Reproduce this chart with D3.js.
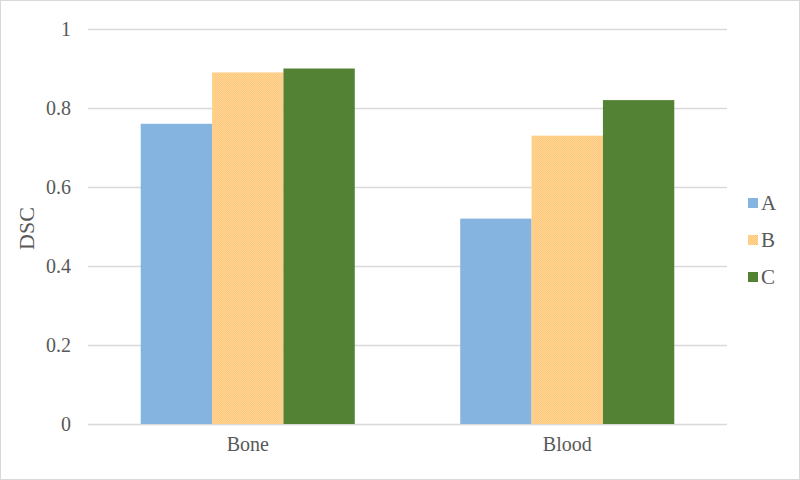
<!DOCTYPE html>
<html>
<head>
<meta charset="utf-8">
<script src="https://cdn.jsdelivr.net/npm/d3@7"></script>
<style>
  body { margin: 0; background: #fff; }
  svg text { font-family: "Liberation Serif", "Times New Roman", serif; fill: #595959; }
</style>
</head>
<body>
<div id="chart"></div>
<script>
// data
var categories = ["Bone", "Blood"];
var seriesNames = ["A", "B", "C"];
var valuesA = [0.76, 0.52];
var valuesB = [0.89, 0.73];
var valuesC = [0.90, 0.82];
var yTicks = [0, 0.2, 0.4, 0.6, 0.8, 1];

var colors = {A: "#85B4E0", B: "url(#hatchB)", C: "#548235"};
var serif = "'Liberation Serif', 'Times New Roman', serif";

var W = 800, H = 480;
var margin = {top: 29, right: 73, bottom: 56, left: 88},
    width = W - margin.left - margin.right,
    height = H - margin.top - margin.bottom;

var svg = d3.select("#chart").append("svg")
    .attr("width", W)
    .attr("height", H);

// checker pattern for B
var defs = svg.append("defs");
var pat = defs.append("pattern")
    .attr("id", "hatchB")
    .attr("patternUnits", "userSpaceOnUse")
    .attr("width", 2).attr("height", 2);
pat.append("rect").attr("width", 2).attr("height", 2).attr("fill", "#FFC573");
pat.append("rect").attr("width", 1).attr("height", 1).attr("fill", "#FFD89E");
pat.append("rect").attr("x", 1).attr("y", 1).attr("width", 1).attr("height", 1).attr("fill", "#FFD89E");

// outer frame
svg.append("rect")
    .attr("x", 0.5).attr("y", 0.5)
    .attr("width", W - 1).attr("height", H - 1)
    .attr("fill", "none")
    .attr("stroke", "#D9D9D9");

var g = svg.append("g")
    .attr("transform", "translate(" + margin.left + "," + margin.top + ")");

var x0 = d3.scaleBand()
    .domain(categories)
    .range([0, width])
    .paddingInner(0.33)
    .paddingOuter(0.165);

var x1 = d3.scaleBand()
    .domain(seriesNames)
    .range([0, x0.bandwidth()]);

var y = d3.scaleLinear()
    .domain([0, 1])
    .range([height, 0]);

// gridlines
g.selectAll(".grid")
  .data(yTicks)
  .enter().append("line")
    .attr("x1", 0).attr("x2", width)
    .attr("y1", function(d) { return Math.round(y(d)) + 0.5; })
    .attr("y2", function(d) { return Math.round(y(d)) + 0.5; })
    .attr("stroke", "#D9D9D9")
    .attr("stroke-width", 1.5);

// y tick labels
var yAxis = g.append("g")
    .attr("font-family", serif)
    .attr("font-size", 20)
    .call(d3.axisLeft(y).tickValues(yTicks).tickSize(0).tickPadding(17)
      .tickFormat(function(d) { return d3.format("")(d); }));
yAxis.attr("font-family", serif).attr("font-size", 20);
yAxis.select(".domain").remove();
yAxis.selectAll("text").attr("fill", "#595959");

// bars
var rows = categories.map(function(c, i) {
  return {cat: c, vals: [
    {s: "A", v: valuesA[i]},
    {s: "B", v: valuesB[i]},
    {s: "C", v: valuesC[i]}
  ]};
});

var groups = g.selectAll(".grp")
  .data(rows)
  .enter().append("g")
    .attr("transform", function(d) { return "translate(" + x0(d.cat) + ",0)"; });

groups.selectAll("rect")
  .data(function(d) { return d.vals; })
  .enter().append("rect")
    .attr("x", function(d) { return x1(d.s); })
    .attr("width", x1.bandwidth())
    .attr("y", function(d) { return y(d.v); })
    .attr("height", function(d) { return height - y(d.v); })
    .attr("fill", function(d) { return colors[d.s]; });

// x labels
var xAxis = g.append("g")
    .attr("transform", "translate(0," + height + ")")
    .call(d3.axisBottom(x0).tickSize(0).tickPadding(13));
xAxis.attr("font-family", serif).attr("font-size", 20);
xAxis.select(".domain").remove();
xAxis.selectAll("text").attr("fill", "#595959");

// y axis title
svg.append("text")
    .attr("transform", "translate(34," + (margin.top + height / 2 + 2) + ") rotate(-90)")
    .attr("text-anchor", "middle")
    .style("font-size", "22px")
    .text("DSC");

// legend
var legend = svg.append("g")
    .attr("transform", "translate(748,198)");
var li = legend.selectAll(".li")
  .data(seriesNames)
  .enter().append("g")
    .attr("transform", function(d, i) { return "translate(0," + (i * 37) + ")"; });
li.append("rect")
    .attr("width", 10).attr("height", 10)
    .attr("fill", function(d) { return colors[d]; });
li.append("text")
    .attr("x", 13).attr("y", 12)
    .style("font-size", "21px")
    .text(function(d) { return d; });
</script>
</body>
</html>
